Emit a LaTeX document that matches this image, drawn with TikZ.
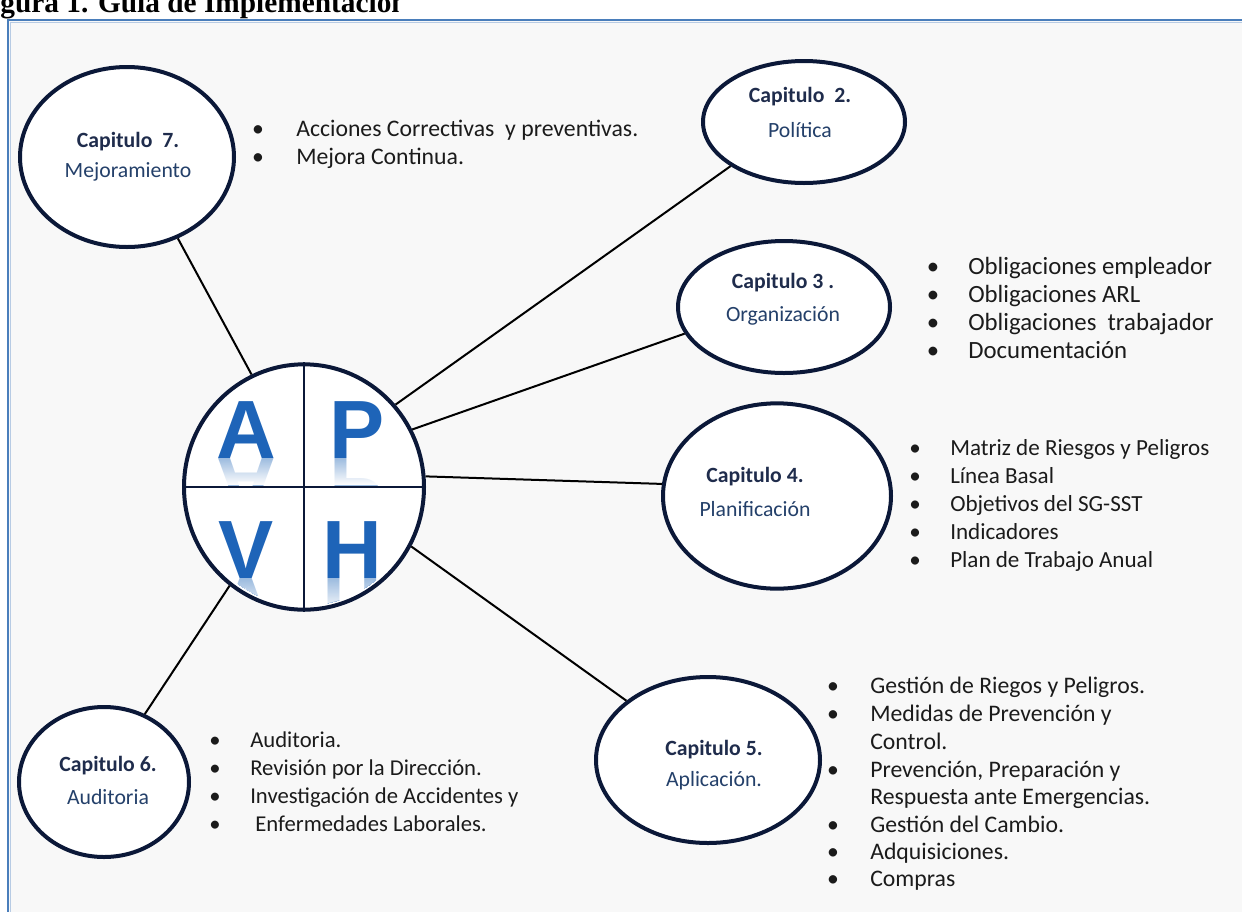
\documentclass[tikz,border=0pt]{standalone}
\usepackage{fontspec}
\setmainfont{Carlito}
\newfontfamily\titlefont{Liberation Serif}
\newfontfamily\letterfont{Liberation Sans}
\usetikzlibrary{shapes.geometric,fadings}
\definecolor{navy}{HTML}{0B1838}
\definecolor{captxt}{HTML}{1F2C4C}
\definecolor{nametxt}{HTML}{24406A}
\definecolor{frameblue}{HTML}{4A7EBB}
\definecolor{letterblue}{HTML}{1E64B8}
\definecolor{bgcol}{HTML}{F8F8F8}
\definecolor{itemtxt}{HTML}{1B1B1B}
\tikzfading[name=fadedown, top color=transparent!100, bottom color=transparent!0]
% #1 name, #2 letter, #3 x, #4 baseline y, #5 length
\newcommand{\mirrorletter}[5]{%
  \begin{scope}
    \clip (304,487) ellipse [x radius=86.5pt, y radius=89pt];
    \clip (#3-45,#4) rectangle (#3+45,#4+#5);
    \begin{scope}[shift={(#3,#4)}, yscale=-1, transform shape]
      \node[letter, opacity=0.45] (#1) at (0,0) {#2};
    \end{scope}
    \fill[white, path fading=fadedown] (#3-45,#4-1) rectangle (#3+45,#4+#5);
  \end{scope}%
}
\begin{document}
\begin{tikzpicture}[x=0.75pt,y=-0.75pt,
  chap/.style={ellipse, draw=navy, line width=3pt, fill=white, inner sep=0pt},
  link/.style={line width=1.5pt, black},
  quad/.style={line width=2.2pt, navy},
  captitle/.style={font=\fontsize{16.3}{20}\selectfont\bfseries, text=captxt, inner sep=0pt},
  capname/.style={font=\fontsize{16.3}{20}\selectfont, text=nametxt, inner sep=0pt},
  bul/.style={text=itemtxt, inner sep=0pt, text height=12pt, text depth=3pt},
  item/.style={bul, anchor=west},
  letter/.style={font=\letterfont\bfseries\fontsize{62}{62}\selectfont, text=letterblue, inner sep=0pt, anchor=base},
]
\useasboundingbox (0,0) rectangle (1242,911);
% title (cut off at the top)
\begin{scope}
  \clip (0,0) rectangle (398,19);
  \node[anchor=base west, font=\titlefont\bfseries\fontsize{22}{22}\selectfont, inner sep=0pt] (title) at (-26,12) {Figura 1. Guía de Implementación};
\end{scope}
% frame
\fill[bgcol] (8,20) rectangle (1250,920);
\draw[frameblue, line width=2.2pt] (8,925) -- (8,20) -- (1250,20);
\draw[frameblue!40, line width=0.8pt] (10.5,925) -- (10.5,22.5) -- (1250,22.5);

% ellipses
\node[chap, minimum width=180pt, minimum height=184pt] (ctr) at (304,487) {};
\node[chap, minimum width=160.5pt, minimum height=135pt] (c7) at (127,157) {};
\node[chap, minimum width=151.5pt, minimum height=91.5pt] (c2) at (804,122) {};
\node[chap, minimum width=159pt, minimum height=99pt] (c3) at (784,307) {};
\node[chap, minimum width=171pt, minimum height=139pt] (c4) at (777,496) {};
\node[chap, minimum width=168pt, minimum height=124.5pt] (c5) at (708,760) {};
\node[chap, minimum width=127.5pt, minimum height=112.5pt] (c6) at (104,782) {};

% connectors
\draw[link] (ctr.115) -- (c7.-58);
\draw[link] (ctr.42) -- (c2.211);
\draw[link] (ctr.28) -- (c3.195);
\draw[link] (ctr.5) -- (c4.174);
\draw[link] (ctr.-29) -- (c5.144);
\draw[link] (ctr.233) -- (c6.59);

% letters with reflections
\mirrorletter{rA}{A}{246}{458}{27}
\mirrorletter{rP}{P}{357}{458}{27}
\mirrorletter{rV}{V}{246}{578}{34}
\mirrorletter{rH}{H}{352}{578}{34}
\node[letter] (lA) at (246,458) {A};
\node[letter] (lP) at (357,458) {P};
\node[letter] (lV) at (246,578) {V};
\node[letter] (lH) at (352,578) {H};

% quadrant lines
\draw[quad] (ctr.north) -- (ctr.south);
\draw[quad] (ctr.west) -- (ctr.east);

% chapter texts
\node[captitle] (t7a) at (128,142) {Capitulo\ \ 7.};
\node[capname] (t7b) at (128,172) {Mejoramiento};
\node[captitle] (t2a) at (800,97) {Capitulo\ \ 2.};
\node[capname] (t2b) at (800,130) {Política};
\node[captitle] (t3a) at (783,283) {Capitulo 3 .};
\node[capname] (t3b) at (783,316) {Organización};
\node[captitle] (t4a) at (755,477) {Capitulo 4.};
\node[capname] (t4b) at (755,509) {Planificación};
\node[captitle] (t5a) at (714,750) {Capitulo 5.};
\node[capname] (t5b) at (714,781) {Aplicación.};
\node[captitle] (t6a) at (108,766) {Capitulo 6.};
\node[capname] (t6b) at (108,797) {Auditoria};

% lists
\begin{scope}[every node/.append style={font=\fontsize{17.8}{20}\selectfont}]
\foreach \t [count=\i] in {Acciones Correctivas\ \ y preventivas., Mejora Continua.}{
  \node[bul] (b7\i) at (258,{130+28*(\i-1)}) {•};
  \node[item] (i7\i) at (296,{130+28*(\i-1)}) {\t};
}
\end{scope}
\begin{scope}[every node/.append style={font=\fontsize{18.6}{20}\selectfont}]
\foreach \t [count=\i] in {Obligaciones empleador, Obligaciones ARL, Obligaciones\ \ trabajador, Documentación}{
  \node[bul] (b3\i) at (933,{268+28*(\i-1)}) {•};
  \node[item] (i3\i) at (968,{268+28*(\i-1)}) {\t};
}
\end{scope}
\begin{scope}[every node/.append style={font=\fontsize{17.3}{20}\selectfont}]
\foreach \t [count=\i] in {Matriz de Riesgos y Peligros, Línea Basal, Objetivos del SG-SST, Indicadores, Plan de Trabajo Anual}{
  \node[bul] (b4\i) at (915,{449+28.2*(\i-1)}) {•};
  \node[item] (i4\i) at (950,{449+28.2*(\i-1)}) {\t};
}
\end{scope}
\begin{scope}[every node/.append style={font=\fontsize{17}{20}\selectfont}]
\foreach \t [count=\i] in {Auditoria., Revisión por la Dirección., Investigación de Accidentes y, \ Enfermedades Laborales.}{
  \node[bul] (b6\i) at (215,{741+28*(\i-1)}) {•};
  \node[item] (i6\i) at (250,{741+28*(\i-1)}) {\t};
}
\end{scope}
\begin{scope}[every node/.append style={font=\fontsize{17.8}{20}\selectfont}]
\node[bul] (b51) at (833,687) {•};
\node[item] (i51) at (870,687) {Gestión de Riegos y Peligros.};
\node[bul] (b52) at (833,715) {•};
\node[item] (i52) at (870,715) {Medidas de Prevención y};
\node[item] (i53) at (870,743) {Control.};
\node[bul] (b54) at (833,771) {•};
\node[item] (i54) at (870,771) {Prevención, Preparación y};
\node[item] (i55) at (870,798) {Respuesta ante Emergencias.};
\node[bul] (b56) at (833,826) {•};
\node[item] (i56) at (870,826) {Gestión del Cambio.};
\node[bul] (b57) at (833,853) {•};
\node[item] (i57) at (870,853) {Adquisiciones.};
\node[bul] (b58) at (833,880) {•};
\node[item] (i58) at (870,880) {Compras};
\end{scope}
\end{tikzpicture}
\end{document}
